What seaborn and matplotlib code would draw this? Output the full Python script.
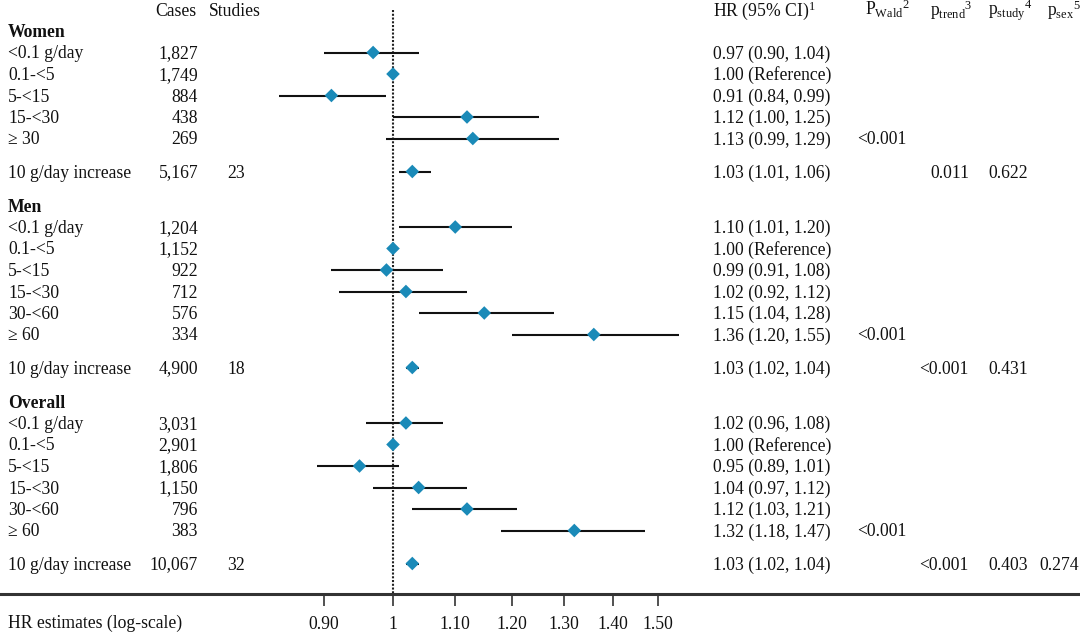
import numpy as np
import pandas as pd
import matplotlib
matplotlib.use("Agg")
import matplotlib.pyplot as plt
import seaborn as sns
from matplotlib.transforms import blended_transform_factory
from matplotlib.ticker import FixedLocator, FixedFormatter, NullLocator

# ---------------- data ----------------
row_group = ["Women"] * 6 + ["Men"] * 7 + ["Overall"] * 7
row_label = ["<0.1 g/day", "0.1-<5", "5-<15", "15-<30", "≥ 30", "10 g/day increase",
             "<0.1 g/day", "0.1-<5", "5-<15", "15-<30", "30-<60", "≥ 60", "10 g/day increase",
             "<0.1 g/day", "0.1-<5", "5-<15", "15-<30", "30-<60", "≥ 60", "10 g/day increase"]
cases = [1827, 1749, 884, 438, 269, 5167,
         1204, 1152, 922, 712, 576, 334, 4900,
         3031, 2901, 1806, 1150, 796, 383, 10067]
studies = ["", "", "", "", "", "23",
           "", "", "", "", "", "", "18",
           "", "", "", "", "", "", "32"]
hr = [0.97, 1.00, 0.91, 1.12, 1.13, 1.03,
      1.10, 1.00, 0.99, 1.02, 1.15, 1.36, 1.03,
      1.02, 1.00, 0.95, 1.04, 1.12, 1.32, 1.03]
ci_lo = [0.90, None, 0.84, 1.00, 0.99, 1.01,
         1.01, None, 0.91, 0.92, 1.04, 1.20, 1.02,
         0.96, None, 0.89, 0.97, 1.03, 1.18, 1.02]
ci_hi = [1.04, None, 0.99, 1.25, 1.29, 1.06,
         1.20, None, 1.08, 1.12, 1.28, 1.55, 1.04,
         1.08, None, 1.01, 1.12, 1.21, 1.47, 1.04]
p_wald = ["", "", "", "", "<0.001", "",
          "", "", "", "", "", "<0.001", "",
          "", "", "", "", "", "<0.001", ""]
p_trend = ["", "", "", "", "", "0.011",
           "", "", "", "", "", "", "<0.001",
           "", "", "", "", "", "", "<0.001"]
p_study = ["", "", "", "", "", "0.622",
           "", "", "", "", "", "", "0.431",
           "", "", "", "", "", "", "0.403"]
p_sex = [""] * 19 + ["0.274"]

tick_values = [0.90, 1.0, 1.10, 1.20, 1.30, 1.40, 1.50]
tick_labels = ["0.90", "1", "1.10", "1.20", "1.30", "1.40", "1.50"]

# ---------------- style ----------------
sns.set_theme(style="white")
plt.rcParams["font.family"] = ["Liberation Serif", "DejaVu Serif"]
plt.rcParams["mathtext.fontset"] = "custom"
plt.rcParams["mathtext.rm"] = "Liberation Serif"
plt.rcParams["mathtext.it"] = "Liberation Serif:italic"
plt.rcParams["mathtext.bf"] = "Liberation Serif:bold"

FS = 12.7
TXT = "#111111"
BLUE = "#1a8ab8"

W, H = 1080, 633
AXIS_Y = 594
X_REF = 393.0     # pixel position of HR = 1
PPU = 653.0       # pixels per natural-log unit

fig = plt.figure(figsize=(W / 100, H / 100), dpi=100)
ax = fig.add_axes([0, (H - AXIS_Y) / H, 1, AXIS_Y / H])
ax.set_xscale("log")
ax.set_xlim(np.exp(-X_REF / PPU), np.exp((W - X_REF) / PPU))
ax.set_ylim(AXIS_Y, 0)

# ---------------- layout of rows ----------------
STEP = 21.5
GAP_INC = 33.0
GAP_HEAD = 34.0
ypos = []
head_pos = {}
y = 31.0
prev_group = None
for i, g in enumerate(row_group):
    if g != prev_group:
        if prev_group is not None:
            y += GAP_HEAD
        head_pos[g] = y
        prev_group = g
    if row_label[i] == "10 g/day increase":
        y += GAP_INC
    else:
        y += STEP
    ypos.append(y)

trans = blended_transform_factory(ax.transAxes, ax.transData)
BASE = 6.0


def put(xpx, ypx, s, ha="left", **kw):
    ax.text(xpx / W, ypx + BASE, s, transform=trans, ha=ha, va="baseline",
            fontsize=FS, color=TXT, clip_on=False, **kw)


# header
HEAD_Y = 9.5
put(196, HEAD_Y, "Cases", ha="right")
put(209, HEAD_Y, "Studies")
put(713, HEAD_Y, r"HR (95% CI)$^{1}$")
put(865, HEAD_Y, r"$\mathrm{P}_{\mathrm{Wald}}{}^{2}$")
put(930, HEAD_Y, r"$\mathrm{p}_{\mathrm{trend}}{}^{3}$")
put(988, HEAD_Y, r"$\mathrm{p}_{\mathrm{study}}{}^{4}$")
put(1047, HEAD_Y, r"$\mathrm{p}_{\mathrm{sex}}{}^{5}$")

for g, yy in head_pos.items():
    put(8, yy, g, fontweight="bold")

for i in range(len(row_label)):
    yy = ypos[i]
    put(8, yy, row_label[i])
    put(198, yy, f"{cases[i]:,}", ha="right")
    if studies[i]:
        put(236, yy, studies[i], ha="center")
    if ci_lo[i] is None:
        txt = f"{hr[i]:.2f} (Reference)"
    else:
        txt = f"{hr[i]:.2f} ({ci_lo[i]:.2f}, {ci_hi[i]:.2f})"
    put(713, yy, txt)
    if p_wald[i]:
        put(857, yy, p_wald[i])
    if p_trend[i]:
        put(969, yy, p_trend[i], ha="right")
    if p_study[i]:
        put(1028, yy, p_study[i], ha="right")
    if p_sex[i]:
        put(1079, yy, p_sex[i], ha="right")

# ---------------- marks ----------------
ax.vlines(1.0, 10, AXIS_Y, colors="#222222", linestyles=(0, (1, 0.8)), linewidth=1.5, zorder=1)

ci_df = pd.DataFrame({"y": ypos, "lo": ci_lo, "hi": ci_hi}).dropna()
ax.hlines(ci_df["y"], ci_df["lo"], ci_df["hi"], colors="#111111", linewidth=1.5, zorder=2)

pt_df = pd.DataFrame({"hr": hr, "y": ypos})
sns.scatterplot(data=pt_df, x="hr", y="y", marker="D", s=48, color=BLUE,
                edgecolor="none", linewidth=0, ax=ax, zorder=3, legend=False)

# ---------------- axes ----------------
ax.set_xlabel("")
ax.set_ylabel("")
ax.set_yticks([])
for side in ["top", "left", "right"]:
    ax.spines[side].set_visible(False)
ax.spines["bottom"].set_linewidth(2.2)
ax.spines["bottom"].set_color("#333333")
ax.xaxis.set_major_locator(FixedLocator(tick_values))
ax.xaxis.set_major_formatter(FixedFormatter(tick_labels))
ax.xaxis.set_minor_locator(NullLocator())
ax.tick_params(axis="x", which="major", direction="out", length=8.6, width=1.1,
               pad=7, labelsize=FS, colors="#222222", labelcolor=TXT, bottom=True)
ax.patch.set_alpha(0)

put(8, 622, "HR estimates (log-scale)")

fig.savefig("out.png", dpi=100)
